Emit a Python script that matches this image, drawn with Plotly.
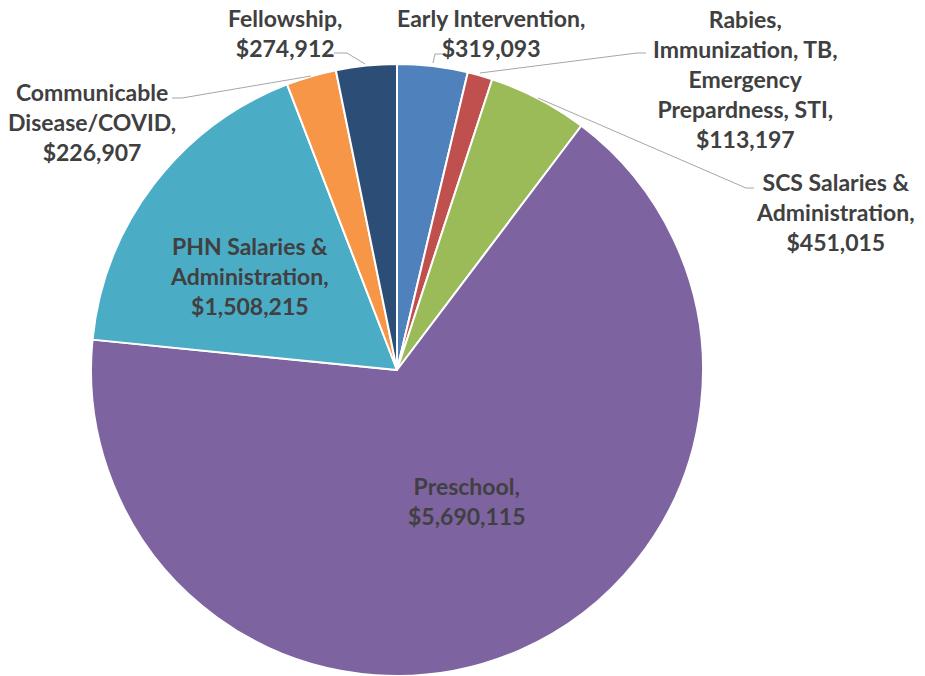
import plotly.graph_objects as go

W, H = 925, 676

labels = ["Early Intervention", "Rabies, Immunization, TB, Emergency Prepardness, STI",
          "SCS Salaries & Administration", "Preschool", "PHN Salaries & Administration",
          "Communicable Disease/COVID", "Fellowship"]
values = [319093, 113197, 451015, 5690115, 1508215, 226907, 274912]
colors = ["#4F81BD", "#C0504D", "#9BBB59", "#7E63A1", "#4BACC6", "#F79646", "#2C4D75"]

# label text as shown, with Excel-style line breaks
label_lines = [
    ["Early Intervention,"],
    ["Rabies,", "Immunization, TB,", "Emergency", "Prepardness, STI,"],
    ["SCS Salaries &", "Administration,"],
    ["Preschool,"],
    ["PHN Salaries &", "Administration,"],
    ["Communicable", "Disease/COVID,"],
    ["Fellowship,"],
]
# label block centre (px) and leader line points (px)
label_pos = [(491, 33), (745, 79), (835, 212), (467, 501), (249, 276), (92, 122), (285, 33)]
leaders = [
    [(433, 63), (435, 54), (446, 54)],
    [(480, 73), (637, 53), (646, 53)],
    [(538, 98), (746, 188), (754, 188)],
    None,
    None,
    [(311, 76), (182, 98), (172, 98)],
    [(365, 64), (347, 53), (334, 53)],
]


def px(x):
    return x / W


def py(y):
    return 1 - y / H


fig = go.Figure(go.Pie(
    labels=labels,
    values=values,
    sort=False,
    direction="clockwise",
    rotation=0,
    textinfo="none",
    hoverinfo="label+value",
    marker=dict(colors=colors, line=dict(color="white", width=2)),
    domain=dict(x=[px(397 - 306), px(397 + 306)], y=[0, py(64)]),
    showlegend=False,
))

for lines, v, (cx, cy), ld in zip(label_lines, values, label_pos, leaders):
    text = "<br>".join(lines + ["${:,}".format(v)])
    fig.add_annotation(x=px(cx), y=py(cy), xref="paper", yref="paper",
                       text="<b>" + text + "</b>", showarrow=False,
                       xanchor="center", yanchor="middle", align="center",
                       font=dict(family="Lato", size=23, color="#404040"))
    if ld:
        path = "M " + " L ".join("{},{}".format(px(a), py(b)) for a, b in ld)
        fig.add_shape(type="path", path=path, xref="paper", yref="paper",
                      line=dict(color="#A6A6A6", width=1))

fig.update_layout(
    width=W, height=H,
    margin=dict(l=0, r=0, t=0, b=0),
    paper_bgcolor="white",
    plot_bgcolor="white",
)

fig.write_html("out.html", config={"displayModeBar": False},
               post_script="document.body.style.margin='0';")
